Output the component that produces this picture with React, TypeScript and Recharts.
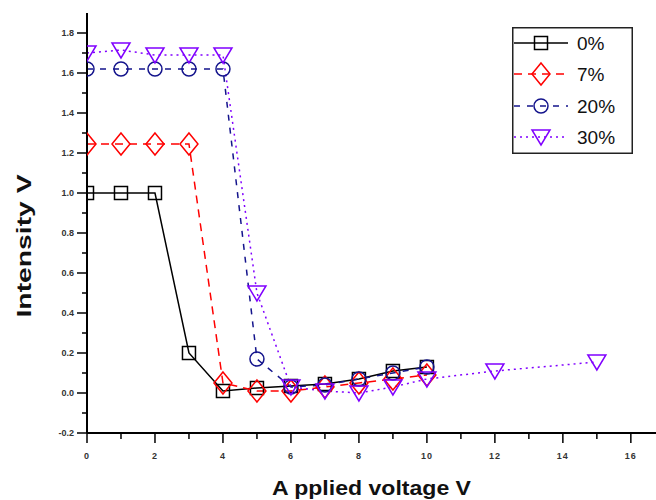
import { CartesianGrid, Legend, Line, LineChart, XAxis, YAxis } from 'recharts'

// applied voltage (V)
const voltages = [0, 1, 2, 3, 4, 5, 6, 7, 8, 9, 10, 12, 15]
const series0 = [1.0, 1.0, 1.0, 0.2, 0.01, 0.025, 0.035, 0.045, 0.07, 0.11, 0.13, null, null]
const series7 = [1.245, 1.245, 1.245, 1.245, 0.05, 0.01, 0.01, 0.03, 0.05, 0.07, 0.09, null, null]
const series20 = [1.62, 1.62, 1.62, 1.62, 1.62, 0.17, 0.03, 0.04, 0.07, 0.1, 0.13, null, null]
const series30 = [1.7, 1.715, 1.69, 1.69, 1.69, 0.5, 0.03, 0.01, 0.0, 0.03, 0.07, 0.11, 0.155]

const xTicks = [0, 1, 2, 3, 4, 5, 6, 7, 8, 9, 10, 11, 12, 13, 14, 15, 16]
const yTicks = [-0.2, -0.1, 0, 0.1, 0.2, 0.3, 0.4, 0.5, 0.6, 0.7, 0.8, 0.9, 1.0, 1.1, 1.2, 1.3, 1.4, 1.5, 1.6, 1.7, 1.8]

type MarkerKind = 'square' | 'diamond' | 'circle' | 'triangle'

interface SeriesDef {
  key: string
  name: string
  color: string
  dash?: string
  marker: MarkerKind
}

const seriesDefs: SeriesDef[] = [
  { key: 's0', name: '0%', color: '#000000', marker: 'square' },
  { key: 's7', name: '7%', color: '#ff0000', dash: '8 6', marker: 'diamond' },
  { key: 's20', name: '20%', color: '#14148c', dash: '6 7', marker: 'circle' },
  { key: 's30', name: '30%', color: '#8000ff', dash: '2 4', marker: 'triangle' },
]

const data = voltages.map((x, i) => ({
  x,
  s0: series0[i],
  s7: series7[i],
  s20: series20[i],
  s30: series30[i],
}))

const tickFont = { fontFamily: 'Liberation Sans, Arial, sans-serif', fontSize: 9, fontWeight: 700, fill: '#333' }

function Marker({ kind, cx, cy, color }: { kind: MarkerKind; cx: number; cy: number; color: string }) {
  const common = { fill: 'none', stroke: color, strokeWidth: 1.5 }
  if (kind === 'square') return <rect x={cx - 6.5} y={cy - 6.5} width={13} height={13} {...common} />
  if (kind === 'diamond')
    return <polygon points={`${cx},${cy - 11} ${cx + 9},${cy} ${cx},${cy + 11} ${cx - 9},${cy}`} {...common} />
  if (kind === 'circle') return <circle cx={cx} cy={cy} r={7} {...common} />
  return <polygon points={`${cx - 9},${cy - 7} ${cx + 9},${cy - 7} ${cx},${cy + 8}`} {...common} />
}

function makeDot(kind: MarkerKind, color: string) {
  return (props: any) => {
    const { cx, cy, value, index } = props
    if (cx == null || cy == null || value == null) return <g key={index} />
    return (
      <g key={index}>
        <Marker kind={kind} cx={cx} cy={cy} color={color} />
      </g>
    )
  }
}

function BottomTick({ x, y, payload }: any) {
  const v = payload.value
  const major = v % 2 === 0
  return (
    <g>
      <line x1={x} x2={x} y1={y} y2={y + (major ? 10 : 6)} stroke="#000" strokeWidth={1.5} />
      {major && (
        <text x={x} y={y + 26} textAnchor="middle" {...tickFont} letterSpacing={1}>
          {v}
        </text>
      )}
    </g>
  )
}

function TopTick({ x, y, payload }: any) {
  const major = payload.value % 2 === 0
  return <line x1={x} x2={x} y1={y} y2={y + (major ? 8 : 4)} stroke="#000" strokeWidth={1.5} />
}

function LeftTick({ x, y, payload }: any) {
  const v = payload.value
  const major = Math.round(v * 10) % 2 === 0
  return (
    <g>
      <line x1={x - (major ? 10 : 5)} x2={x} y1={y} y2={y} stroke="#000" strokeWidth={1.5} />
      {major && (
        <text x={x - 13} y={y + 3} textAnchor="end" {...tickFont}>
          {v.toFixed(1)}
        </text>
      )}
    </g>
  )
}

function LegendBox() {
  const rowY = [16, 47, 79, 110]
  return (
    <svg width={121} height={127}>
      <rect x={0.75} y={0.75} width={119.5} height={125.5} fill="#fff" stroke="#222" strokeWidth={1.5} />
      {seriesDefs.map((s, i) => (
        <g key={s.key}>
          <line x1={2} x2={56} y1={rowY[i]} y2={rowY[i]} stroke={s.color} strokeWidth={1.5} strokeDasharray={s.dash} />
          <Marker kind={s.marker} cx={29} cy={rowY[i]} color={s.color} />
          <text x={65} y={rowY[i] + 7} fontFamily="Liberation Sans, Arial, sans-serif" fontSize={19} fill="#111">
            {s.name}
          </text>
        </g>
      ))}
    </svg>
  )
}

export default function App() {
  return (
    <div style={{ position: 'absolute', left: 0, top: 0, width: 656, height: 500, background: '#fff' }}>
      <LineChart width={656} height={500} data={data} margin={{ top: 13, right: 0, bottom: 0, left: 0 }}>
        <CartesianGrid stroke="none" />
        <XAxis
          type="number"
          dataKey="x"
          domain={[0, 16.74]}
          allowDataOverflow
          ticks={xTicks}
          interval={0}
          height={67}
          axisLine={{ stroke: '#000', strokeWidth: 2 }}
          tickLine={false}
          tickSize={0}
          tickMargin={0}
          tick={<BottomTick />}
          label={(props: any) => {
            const vb = props.viewBox
            return (
              <text
                x={vb.x + vb.width / 2}
                y={495}
                textAnchor="middle"
                fontFamily="Liberation Sans, Arial, sans-serif"
                fontSize={20}
                fontWeight={700}
                fill="#111"
                textLength={199}
                lengthAdjust="spacingAndGlyphs"
              >
                A pplied voltage V
              </text>
            )
          }}
        />
        <XAxis
          xAxisId="top"
          orientation="top"
          type="number"
          dataKey="x"
          domain={[0, 16.74]}
          ticks={xTicks}
          interval={0}
          height={0}
          axisLine={{ stroke: '#000', strokeWidth: 2 }}
          tickLine={false}
          tickSize={0}
          tickMargin={0}
          tick={<TopTick />}
        />
        <YAxis
          type="number"
          domain={[-0.2, 1.9]}
          allowDataOverflow
          ticks={yTicks}
          interval={0}
          width={87}
          axisLine={{ stroke: '#000', strokeWidth: 2 }}
          tickLine={false}
          tickSize={0}
          tickMargin={0}
          tick={<LeftTick />}
          label={() => (
            <text
              x={31}
              y={246}
              transform="rotate(-90 31 246)"
              textAnchor="middle"
              fontFamily="Liberation Sans, Arial, sans-serif"
              fontSize={20}
              fontWeight={700}
              fill="#111"
              textLength={143}
              lengthAdjust="spacingAndGlyphs"
            >
              Intensity V
            </text>
          )}
        />
        {seriesDefs.map((s) => (
          <Line
            key={s.key}
            dataKey={s.key}
            name={s.name}
            stroke={s.color}
            strokeWidth={1.5}
            strokeDasharray={s.dash}
            dot={makeDot(s.marker, s.color)}
            activeDot={false}
            isAnimationActive={false}
          />
        ))}
        <Legend
          layout="vertical"
          align="center"
          verticalAlign="middle"
          content={() => <LegendBox />}
          wrapperStyle={{ position: 'absolute', left: 512, top: 27, width: 121, height: 127 }}
        />
      </LineChart>
    </div>
  )
}
